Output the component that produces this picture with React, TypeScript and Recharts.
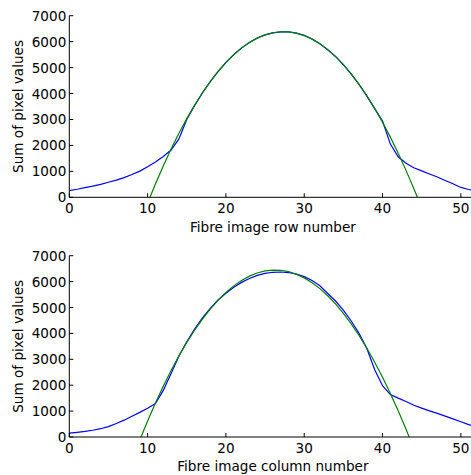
import { Label, Line, LineChart, XAxis, YAxis } from "recharts";

const FONT = "'DejaVu Sans', 'Bitstream Vera Sans', sans-serif";
const FS = 13.6;

// pixel column index shared by both panels
const pixelIndex = [
  0, 1, 2, 3, 4, 5, 6, 7, 8, 9, 10, 11, 12, 13, 14, 15, 16, 17, 18, 19, 20, 21, 22, 23, 24, 25, 26,
  27, 28, 29, 30, 31, 32, 33, 34, 35, 36, 37, 38, 39, 40, 41, 42, 43, 44, 45, 46, 47, 48, 49, 50, 51, 52
];

const rowSums = [
  260, 310, 370, 430, 500, 580, 660, 760, 880, 1010, 1180, 1360, 1570, 1820, 2250, 3000, 3530, 4020,
  4460, 4840, 5200, 5500, 5760, 5970, 6140, 6260, 6340, 6380, 6380, 6330, 6240, 6100, 5920, 5690,
  5430, 5110, 4750, 4350, 3900, 3420, 2940, 2050, 1560, 1310, 1140, 1020, 900, 780, 650, 520, 380,
  300, 250
];

const rowFitX = [
  10.3, 11, 12, 13, 14, 15, 16, 17, 18, 19, 20, 21, 22, 23, 24, 25, 26, 27, 28, 29, 30, 31, 32, 33,
  34, 35, 36, 37, 38, 39, 40, 41, 42, 43, 44, 44.45
];
const rowFit = [
  0, 513, 1208, 1860, 2467, 3031, 3551, 4028, 4460, 4849, 5194, 5495, 5752, 5966, 6136, 6262, 6344,
  6382, 6377, 6327, 6234, 6097, 5917, 5692, 5424, 5112, 4756, 4356, 3913, 3426, 2894, 2320, 1701,
  1038, 332, 0
];

const colSums = [
  150, 180, 215, 260, 320, 400, 520, 650, 800, 950, 1110, 1290, 1800, 2450, 3130, 3680, 4170, 4600,
  4970, 5290, 5550, 5780, 5970, 6120, 6240, 6320, 6360, 6370, 6350, 6290, 6190, 6040, 5840, 5540,
  5250, 4900, 4480, 4000, 3420, 2600, 1980, 1640, 1500, 1370, 1225, 1115, 1010, 910, 805, 700, 590,
  480, 380
];

const colFitX = [
  9.16, 10, 11, 12, 13, 14, 15, 16, 17, 18, 19, 20, 21, 22, 23, 24, 25, 26, 27, 28, 29, 30, 31, 32,
  33, 34, 35, 36, 37, 38, 39, 40, 41, 42, 43, 43.4
];
const colFit = [
  0, 617, 1312, 1962, 2568, 3131, 3649, 4123, 4554, 4940, 5282, 5580, 5835, 6045, 6211, 6334, 6412,
  6446, 6437, 6383, 6285, 6144, 5958, 5728, 5455, 5137, 4775, 4370, 3920, 3426, 2888, 2307, 1681,
  1011, 298, 0
];

const xTicks = [0, 10, 20, 30, 40, 50];
const yTicks = [0, 1000, 2000, 3000, 4000, 5000, 6000, 7000];

const toPoints = (xs: number[], ys: number[]) => xs.map((x, i) => ({ x, y: ys[i] }));

const BottomTick = ({ x, y, payload }: any) => (
  <g>
    <line x1={x} y1={y} x2={x} y2={y - 4} stroke="#000" />
    <text x={x} y={y + 11} textAnchor="middle" dominantBaseline="central" fontFamily={FONT} fontSize={FS} fill="#000">
      {payload.value}
    </text>
  </g>
);

const TopTick = ({ x, y }: any) => <line x1={x} y1={y} x2={x} y2={y + 4} stroke="#000" />;

const LeftTick = ({ x, y, payload }: any) => (
  <g>
    <line x1={x} y1={y} x2={x + 4} y2={y} stroke="#000" />
    <text x={x - 3} y={y} textAnchor="end" dominantBaseline="central" fontFamily={FONT} fontSize={FS} fill="#000">
      {payload.value}
    </text>
  </g>
);

const xTitle = (text: string) => (props: any) => {
  const vb = props.viewBox;
  return (
    <text x={vb.x + vb.width / 2} y={vb.y + 29.4} textAnchor="middle" dominantBaseline="central" fontFamily={FONT} fontSize={FS} fill="#000">
      {text}
    </text>
  );
};

const YTitle = (props: any) => {
  const vb = props.viewBox;
  const cy = vb.y + vb.height / 2;
  return (
    <text x={18.3} y={cy} transform={`rotate(-90 18.3 ${cy})`} textAnchor="middle" dominantBaseline="central" fontFamily={FONT} fontSize={FS} fill="#000">
      Sum of pixel values
    </text>
  );
};

type PanelProps = {
  blueX: number[];
  blueY: number[];
  fitX: number[];
  fitY: number[];
  xLabel: string;
  top: number;
  bottom: number;
};

const Panel = ({ blueX, blueY, fitX, fitY, xLabel, top, bottom }: PanelProps) => (
  <LineChart width={480} height={237} margin={{ top, right: 3.5, bottom, left: 0 }}>
    <XAxis
      dataKey="x"
      type="number"
      domain={[0, 52]}
      ticks={xTicks}
      height={30}
      tickSize={0}
      tickMargin={0}
      tickLine={false}
      tick={<BottomTick />}
      axisLine={{ stroke: "#000" }}
    >
      <Label content={xTitle(xLabel)} />
    </XAxis>
    <XAxis
      xAxisId="top"
      orientation="top"
      type="number"
      domain={[0, 52]}
      ticks={xTicks}
      height={0}
      tickSize={0}
      tickMargin={0}
      tickLine={false}
      tick={<TopTick />}
      axisLine={{ stroke: "#000" }}
    />
    <YAxis
      type="number"
      domain={[0, 7000]}
      ticks={yTicks}
      width={69.3}
      tickSize={0}
      tickMargin={0}
      tickLine={false}
      tick={<LeftTick />}
      axisLine={{ stroke: "#000" }}
    >
      <Label content={YTitle} />
    </YAxis>
    <Line
      data={toPoints(blueX, blueY)}
      dataKey="y"
      type="linear"
      stroke="#0000ff"
      strokeWidth={1.2}
      dot={false}
      isAnimationActive={false}
    />
    <Line
      data={toPoints(fitX, fitY)}
      dataKey="y"
      type="linear"
      stroke="#008000"
      strokeWidth={1.2}
      dot={false}
      isAnimationActive={false}
    />
  </LineChart>
);

export default function App() {
  return (
    <>
      <style>{"html,body{overflow:hidden;margin:0;}"}</style>
      <div style={{ position: "fixed", left: 0, top: 0, width: 471, height: 475, overflow: "hidden", background: "#fff" }}>
        <Panel blueX={pixelIndex} blueY={rowSums} fitX={rowFitX} fitY={rowFit} xLabel="Fibre image row number" top={15.7} bottom={9.7} />
        <Panel blueX={pixelIndex} blueY={colSums} fitX={colFitX} fitY={colFit} xLabel="Fibre image column number" top={18.7} bottom={7} />
      </div>
    </>
  );
}
